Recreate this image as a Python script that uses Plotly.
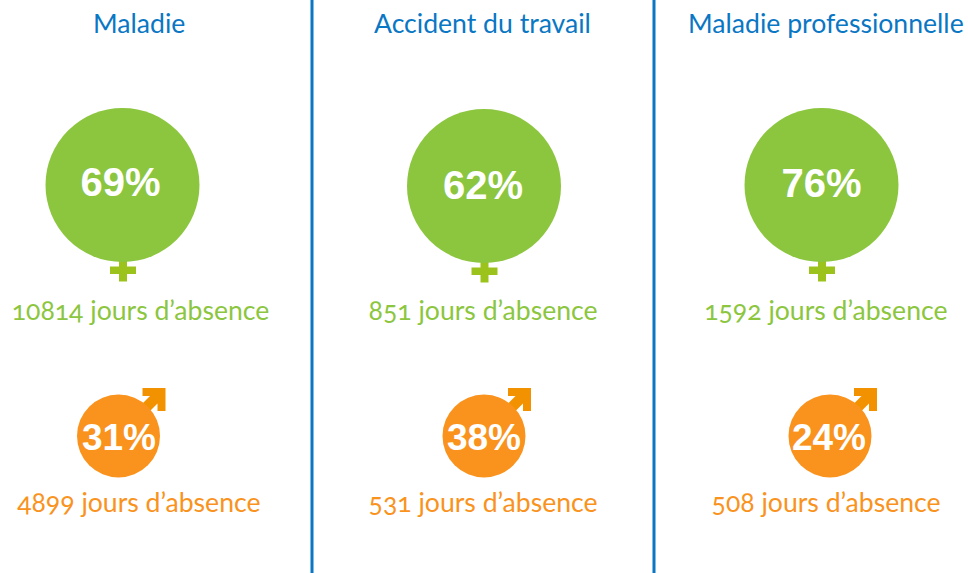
import plotly.graph_objects as go

categories = ["Maladie", "Accident du travail", "Maladie professionnelle"]
female_pct = [69, 62, 76]
male_pct = [31, 38, 24]
female_days = [10814, 851, 1592]
male_days = [4899, 531, 508]

BLUE = "#0A77C4"
GREEN = "#8CC63F"
GREEN_D = "#9BC31C"
ORANGE = "#F9931D"
ORANGE_D = "#F39200"
FONT = "Lato"

title_x = [138.5, 482.5, 826]
fem_x = [122.5, 484, 821.5]
fem_y = [185, 186, 185]
fem_label_x = [120.5, 483, 821.5]
fem_label_y = [186, 189, 187]
mal_x = [118.5, 484, 830]
mal_y = 436
mal_label_x = [119, 484, 829]
mal_label_y = 441
fem_text_x = [140, 482.5, 826]
mal_text_x = [139, 482.5, 826]
R_F, R_M = 77, 41.5

fig = go.Figure()


def rect(x0, y0, x1, y1, c):
    fig.add_shape(type="rect", x0=x0, y0=y0, x1=x1, y1=y1, fillcolor=c, line_width=0, layer="below")


for x in (312, 654):
    fig.add_shape(type="line", x0=x, x1=x, y0=0, y1=573, line=dict(color=BLUE, width=3))

for i in range(3):
    cx = fem_x[i]
    cy = fem_y[i]
    rect(cx - 3.5, cy + 70, cx + 4.5, cy + 96.5, GREEN_D)
    rect(cx - 12.5, cy + 81.5, cx + 13.5, cy + 89, GREEN_D)
    mx = mal_x[i]
    ax, ay = mx + 47, mal_y - 48
    fig.add_shape(
        type="path",
        path=f"M {ax} {ay} L {ax} {ay+23} L {ax-8} {ay+23} L {ax-8} {ay+15.5} L {ax-28} {ay+35.5} "
             f"L {ax-35.5} {ay+28} L {ax-15.5} {ay+8} L {ax-23} {ay+8} L {ax-23} {ay} Z",
        fillcolor=ORANGE_D, line_width=0, layer="below",
    )

fig.add_trace(go.Scatter(
    x=fem_x, y=fem_y, mode="markers",
    marker=dict(size=2 * R_F, color=GREEN, line_width=0),
))
fig.add_trace(go.Scatter(
    x=mal_x, y=[mal_y] * 3, mode="markers",
    marker=dict(size=2 * R_M, color=ORANGE, line_width=0),
))
fig.add_trace(go.Scatter(
    x=fem_label_x, y=fem_label_y, mode="text",
    text=[f"{v}%" for v in female_pct], textposition="middle center",
    textfont=dict(family="Liberation Sans", size=40, color="white", weight="bold"),
))
fig.add_trace(go.Scatter(
    x=mal_label_x, y=[mal_label_y] * 3, mode="text",
    text=[f"{v}%" for v in male_pct], textposition="middle center",
    textfont=dict(family="Liberation Sans", size=37, color="white", weight="bold"),
))


def note(x, y, s, c):
    fig.add_annotation(x=x, y=y, text=s, showarrow=False, xanchor="center", yanchor="middle",
                       font=dict(family=FONT, size=26.6, color=c))


for i in range(3):
    note(title_x[i], 23, categories[i], BLUE)
    note(fem_text_x[i], 310, f"{female_days[i]} jours d’absence", GREEN)
    note(mal_text_x[i], 502, f"{male_days[i]} jours d’absence", ORANGE)

fig.update_layout(
    width=968, height=573, margin=dict(l=0, r=0, t=0, b=0),
    paper_bgcolor="white", plot_bgcolor="white", showlegend=False,
    xaxis=dict(range=[0, 968], visible=False, fixedrange=True),
    yaxis=dict(range=[573, 0], visible=False, fixedrange=True),
)
post = """
document.body.style.margin='0';
document.documentElement.style.overflow='hidden';
var s=document.createElement('style');
s.textContent="text{font-feature-settings:'onum' 1;font-variant-numeric:oldstyle-nums;}";
document.head.appendChild(s);
"""
fig.write_html("out.html", config={"displayModeBar": False}, post_script=post)
